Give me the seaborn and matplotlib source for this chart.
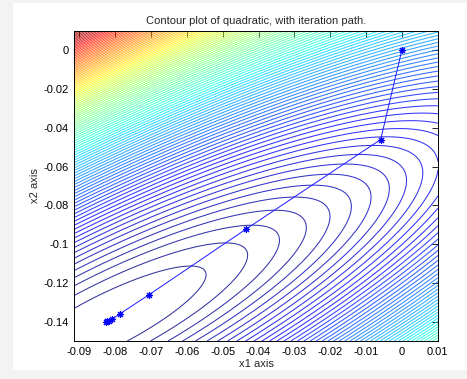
import numpy as np
import pandas as pd
import seaborn as sns
import matplotlib.pyplot as plt
from matplotlib.patches import Rectangle
from matplotlib.ticker import FuncFormatter

quad_A = [[0.445, -0.365], [-0.365, 0.42]]
quad_centre = [-0.0826, -0.1401]
level_step = 1.0

# iteration path
path_x1 = [0.0, -0.0059, -0.0436, -0.0707, -0.0787, -0.0810, -0.0818, -0.0823, -0.0826]
path_x2 = [0.0, -0.0460, -0.0924, -0.1263, -0.1360, -0.1388, -0.1395, -0.1399, -0.1401]

x_ticks = [-0.09, -0.08, -0.07, -0.06, -0.05, -0.04, -0.03, -0.02, -0.01, 0, 0.01]
y_ticks = [-0.14, -0.12, -0.1, -0.08, -0.06, -0.04, -0.02, 0]

sns.set_style("white")
plt.rcParams["font.family"] = ["Liberation Sans", "DejaVu Sans"]

fig = plt.figure(figsize=(4.67, 3.79), dpi=100)
fig.patch.set_facecolor("#f3f3f3")
fig.patches.append(Rectangle((13 / 467, 1 - 370 / 379), 1, 367 / 379,
                             transform=fig.transFigure, facecolor="white",
                             edgecolor="none", zorder=-1))
ax = fig.add_axes([74 / 467, 1 - 341 / 379, 364 / 467, 310 / 379])

# surface on the visible window
xs = np.linspace(-0.0915, 0.0101, 300)
ys = np.linspace(-0.15, 0.01, 300)
X, Y = np.meshgrid(xs, ys)
A = np.array(quad_A)
U = (X - quad_centre[0]) * 100
V = (Y - quad_centre[1]) * 100
Z = A[0, 0] * U**2 + 2 * A[0, 1] * U * V + A[1, 1] * V**2

levels = np.arange(level_step, Z.max(), level_step)
ax.contour(X, Y, Z, levels=levels, cmap="jet", linewidths=0.75, alpha=0.8)

path = pd.DataFrame({"x1": path_x1, "x2": path_x2})
sns.lineplot(data=path, x="x1", y="x2", sort=False, estimator=None, ax=ax,
             color="#1a1aff", linewidth=0.7, marker=(8, 2, 0), markersize=5,
             markeredgecolor="blue", markeredgewidth=0.8)

ax.set_xlim(-0.0915, 0.0101)
ax.set_ylim(-0.15, 0.01)
ax.set_xticks(x_ticks)
ax.set_yticks(y_ticks)
fmt = FuncFormatter(lambda v, p: "%g" % round(v, 4))
ax.xaxis.set_major_formatter(fmt)
ax.yaxis.set_major_formatter(fmt)
ax.tick_params(direction="in", top=True, right=True, length=4, width=0.6,
               labelsize=8, pad=4, colors="black")
for s in ax.spines.values():
    s.set_color("black")
    s.set_linewidth(0.7)

ax.set_title("Contour plot of quadratic, with iteration path.", fontsize=8, pad=5)
ax.set_xlabel("x1 axis", fontsize=8, labelpad=2)
ax.set_ylabel("x2 axis", fontsize=8, labelpad=2)

fig.savefig("out.png", dpi=100, facecolor=fig.get_facecolor())
